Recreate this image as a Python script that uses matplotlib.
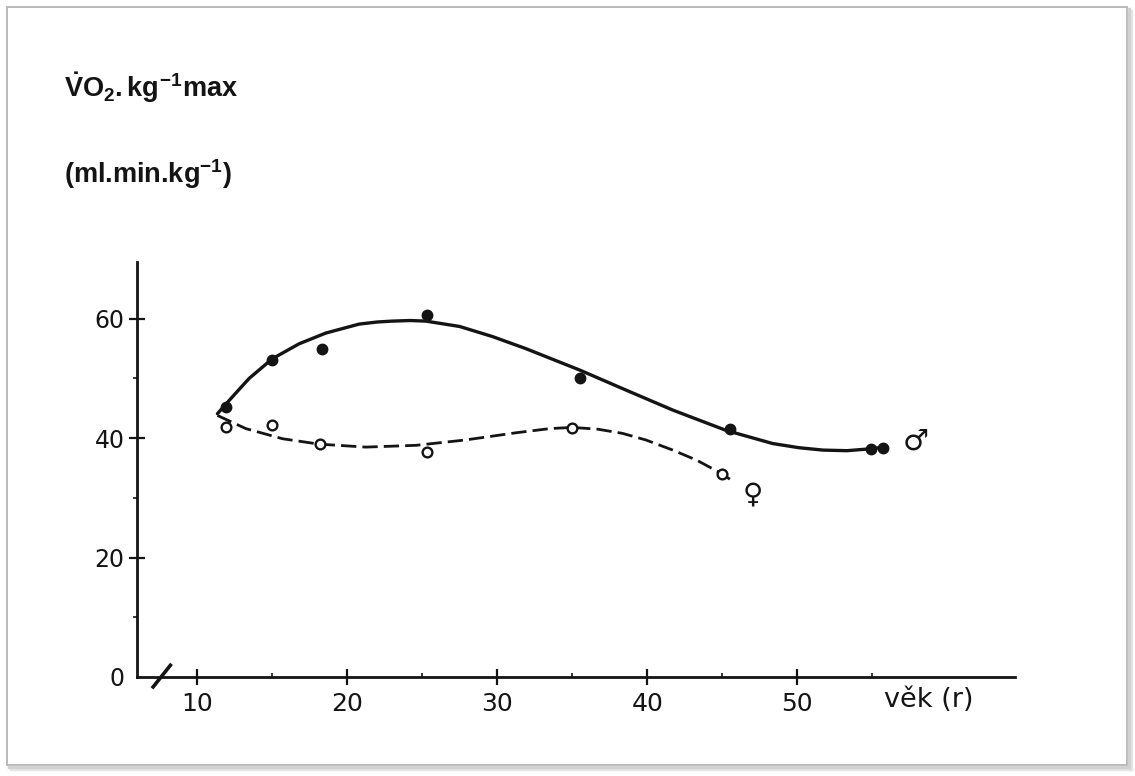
import matplotlib
matplotlib.use("Agg")
import matplotlib.pyplot as plt
from matplotlib.patches import Rectangle
from matplotlib.lines import Line2D

# ---------------- data ----------------
men_age = [11.9, 15.0, 18.3, 25.3, 35.5, 45.5, 54.9, 55.7]
men_vo2 = [45.2, 53.1, 54.9, 60.7, 50.1, 41.6, 38.2, 38.4]

women_age = [11.9, 15.0, 18.2, 25.3, 35.0, 45.0]
women_vo2 = [41.9, 42.2, 39.0, 37.7, 41.7, 34.0]

# hand-drawn trend curves
men_curve_x = [11.36, 12.35, 13.47, 15.02, 16.8, 18.58, 20.8, 22.0, 23.0, 24.2, 25.25, 27.5,
               29.7, 31.9, 35.5, 38.35, 41.7, 45.25, 48.35, 50.1, 51.7, 53.3, 54.8, 55.8]
men_curve_y = [44.1, 46.9, 50.0, 53.3, 55.8, 57.6, 59.1, 59.45, 59.6, 59.7, 59.6, 58.7,
               57.0, 55.0, 51.4, 48.3, 44.7, 41.3, 39.1, 38.4, 38.0, 37.9, 38.2, 38.5]

women_curve_x = [11.36, 13.25, 15.7, 18.13, 21.25, 24.6, 27.9, 31.25, 33.5, 35.0,
                 36.7, 38.35, 39.9, 41.7, 43.3, 45.0, 45.8]
women_curve_y = [43.8, 41.6, 39.9, 39.0, 38.5, 38.8, 39.7, 40.9, 41.6, 41.8,
                 41.5, 40.8, 39.7, 38.0, 36.3, 34.0, 32.6]

x_ticks = [10, 20, 30, 40, 50]
x_minor = [15, 25, 35, 45, 55]
y_ticks = [0, 20, 40, 60]
y_minor = [10, 30, 50]

ylabel_line1 = r"$\dot{V}O_{2}.kg^{-1}max$"
ylabel_line2 = r"(ml.min.kg$^{-1}$)"
xlabel_text = "věk (r)"
male_sym = "\u2642"
female_sym = "\u2640"

# ---------------- figure ----------------
plt.rcParams["mathtext.fontset"] = "custom"
plt.rcParams["mathtext.rm"] = "Liberation Sans:bold"
plt.rcParams["mathtext.it"] = "Liberation Sans:bold"
plt.rcParams["mathtext.bf"] = "Liberation Sans:bold"

ink = "#141414"
fig = plt.figure(figsize=(11.35, 7.76), dpi=100)
fig.patch.set_facecolor("white")

# picture frame with soft shadow
W, H = 1135, 776
def fx(p): return p / W
def fy(p): return 1 - p / H
for off, col in [(4, "#e6e6e6"), (2, "#d2d2d2")]:
    fig.add_artist(Line2D([fx(7 + off), fx(1127 + off)], [fy(765 + off)] * 2,
                          color=col, lw=2.5, transform=fig.transFigure))
    fig.add_artist(Line2D([fx(1127 + off)] * 2, [fy(7 + off), fy(765 + off)],
                          color=col, lw=2.5, transform=fig.transFigure))
fig.add_artist(Rectangle((fx(7), fy(765)), fx(1127) - fx(7), fy(7) - fy(765),
                         transform=fig.transFigure, fill=False,
                         edgecolor="#b4b4b4", lw=1.3))

ax = fig.add_axes([137 / W, 1 - 677 / H, (1015 - 137) / W, (677 - 262) / H])
ax.set_xlim(6, 64.5)
ax.set_ylim(0, 69.5)

for s in ("top", "right"):
    ax.spines[s].set_visible(False)
for s in ("left", "bottom"):
    ax.spines[s].set_linewidth(2.0)
    ax.spines[s].set_color(ink)

# curves
ax.plot(men_curve_x, men_curve_y, color=ink, lw=2.4, solid_capstyle="round",
        solid_joinstyle="round")
ax.plot(women_curve_x, women_curve_y, color=ink, lw=2.0, linestyle=(0, (5.5, 2.2)),
        dash_capstyle="butt", dash_joinstyle="round")

# points
ax.plot(men_age, men_vo2, linestyle="none", marker="o", ms=7.5,
        color=ink, mec=ink)
ax.plot(women_age, women_vo2, linestyle="none", marker="o", ms=7,
        mfc="white", mec=ink, mew=1.7)

# sex symbols
ax.text(57.9, 39.4, male_sym, fontsize=21, ha="center", va="center",
        color=ink, family="DejaVu Sans", fontweight="bold")
ax.text(47.0, 30.6, female_sym, fontsize=20, ha="center", va="center",
        color=ink, family="DejaVu Sans", fontweight="bold")

# ticks
ax.set_xticks(x_ticks)
ax.set_xticks(x_minor, minor=True)
ax.set_yticks(y_ticks)
ax.set_yticks(y_minor, minor=True)
ax.set_xticklabels([str(v) for v in x_ticks])
ax.set_yticklabels([str(v) for v in y_ticks])
ax.tick_params(axis="x", which="major", direction="inout", length=11, width=1.6,
               pad=5, labelsize=18, colors=ink)
ax.tick_params(axis="y", which="major", direction="inout", length=12, width=1.6,
               pad=3, labelsize=17, colors=ink)
ax.tick_params(axis="x", which="minor", direction="in", length=3, width=1.2,
               colors=ink)
ax.tick_params(axis="y", which="minor", direction="out", length=3, width=1.2,
               colors=ink)
ax.yaxis.get_major_ticks()[0].tick1line.set_visible(False)
ax.yaxis.get_major_ticks()[0].tick2line.set_visible(False)

# axis break mark on the x axis
ax.plot([7.0, 8.3], [-1.9, 2.2], color=ink, lw=2.6, clip_on=False,
        solid_capstyle="butt")

# x axis label at the end of the axis
ax.text(55.8, -3.9, xlabel_text, fontsize=19.5, ha="left", va="center",
        color=ink, clip_on=False)

# y axis title (two lines, top-left)
fig.text(64 / W, fy(97), ylabel_line1, fontsize=19.5, color=ink,
         ha="left", va="baseline")
fig.text(64 / W, fy(183), ylabel_line2, fontsize=19.5, color=ink,
         ha="left", va="baseline", family="Liberation Sans", fontweight="bold")

fig.savefig("out.png", dpi=100, facecolor="white")
